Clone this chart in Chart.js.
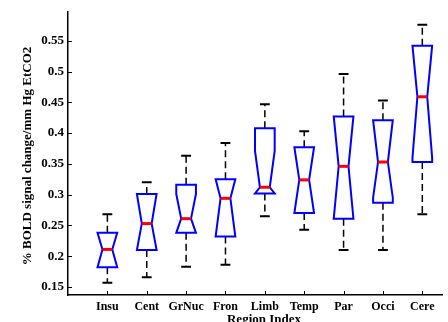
<!DOCTYPE html>
<html>
<head>
<meta charset="utf-8">
<script src="https://cdn.jsdelivr.net/npm/chart.js@4/dist/chart.umd.min.js"></script>
<style>
  html, body { margin: 0; padding: 0; background: #fff; }
  #wrap { width: 448px; height: 322px; }
</style>
</head>
<body>
<div id="wrap"><canvas id="myChart"></canvas></div>
<script>
//datos
const regiones = ['Insu', 'Cent', 'GrNuc', 'Fron', 'Limb', 'Temp', 'Par', 'Occi', 'Cere'];
const bigoteAlto = [0.268, 0.320, 0.363, 0.384, 0.447, 0.403, 0.496, 0.453, 0.576];
const q3 = [0.238, 0.301, 0.316, 0.325, 0.408, 0.377, 0.427, 0.421, 0.542];
const mediana = [0.211, 0.253, 0.261, 0.294, 0.312, 0.324, 0.346, 0.353, 0.459];
const q1 = [0.182, 0.210, 0.238, 0.232, 0.302, 0.270, 0.261, 0.287, 0.353];
const bigoteBajo = [0.157, 0.166, 0.183, 0.186, 0.265, 0.243, 0.210, 0.210, 0.268];
const muescaAlta = [0.238, 0.301, 0.301, 0.325, 0.371, 0.377, 0.427, 0.421, 0.542];
const muescaBaja = [0.182, 0.210, 0.238, 0.232, 0.302, 0.270, 0.261, 0.295, 0.360];
const yTicks = [0.15, 0.2, 0.25, 0.3, 0.35, 0.4, 0.45, 0.5, 0.55];

const fuente = "'Liberation Serif', 'DejaVu Serif', serif";
Chart.defaults.font.family = fuente;
Chart.defaults.color = '#000';

//plugin para dibujar las cajas con muesca
const cajas = {
    id: 'cajas',
    afterDatasetsDraw(chart) {
        const c = chart.ctx;
        const x = chart.scales.x;
        const y = chart.scales.y;
        const w = x.getPixelForValue(0.25) - x.getPixelForValue(0);
        c.save();
        regiones.forEach((r, i) => {
            const px = x.getPixelForValue(i + 1);
            const L = px - w, R = px + w, nL = px - w / 2, nR = px + w / 2;
            const cap = w / 2;
            // bigotes
            c.strokeStyle = '#000';
            c.lineWidth = 1.5;
            c.setLineDash([7, 4]);
            c.beginPath();
            c.moveTo(px, y.getPixelForValue(q3[i]));
            c.lineTo(px, y.getPixelForValue(bigoteAlto[i]));
            c.moveTo(px, y.getPixelForValue(q1[i]));
            c.lineTo(px, y.getPixelForValue(bigoteBajo[i]));
            c.stroke();
            c.setLineDash([]);
            c.lineWidth = 2;
            c.beginPath();
            c.moveTo(px - cap, y.getPixelForValue(bigoteAlto[i]));
            c.lineTo(px + cap, y.getPixelForValue(bigoteAlto[i]));
            c.moveTo(px - cap, y.getPixelForValue(bigoteBajo[i]));
            c.lineTo(px + cap, y.getPixelForValue(bigoteBajo[i]));
            c.stroke();
            // caja
            c.strokeStyle = '#0000ff';
            c.lineWidth = 2;
            c.beginPath();
            c.moveTo(L, y.getPixelForValue(q3[i]));
            c.lineTo(R, y.getPixelForValue(q3[i]));
            c.lineTo(R, y.getPixelForValue(muescaAlta[i]));
            c.lineTo(nR, y.getPixelForValue(mediana[i]));
            c.lineTo(R, y.getPixelForValue(muescaBaja[i]));
            c.lineTo(R, y.getPixelForValue(q1[i]));
            c.lineTo(L, y.getPixelForValue(q1[i]));
            c.lineTo(L, y.getPixelForValue(muescaBaja[i]));
            c.lineTo(nL, y.getPixelForValue(mediana[i]));
            c.lineTo(L, y.getPixelForValue(muescaAlta[i]));
            c.closePath();
            c.stroke();
            // mediana
            c.strokeStyle = '#ff0000';
            c.lineWidth = 3;
            c.beginPath();
            c.moveTo(nL, y.getPixelForValue(mediana[i]));
            c.lineTo(nR, y.getPixelForValue(mediana[i]));
            c.stroke();
        });
        // marcas hacia dentro
        const a = chart.chartArea;
        c.strokeStyle = '#000';
        c.lineWidth = 1;
        c.beginPath();
        yTicks.forEach(v => {
            const py = Math.round(y.getPixelForValue(v)) + 0.5;
            c.moveTo(a.left, py);
            c.lineTo(a.left + 4, py);
        });
        regiones.forEach((r, i) => {
            const px = Math.round(x.getPixelForValue(i + 1)) + 0.5;
            c.moveTo(px, a.bottom);
            c.lineTo(px, a.bottom - 4);
        });
        c.stroke();
        // titulos
        c.fillStyle = '#000';
        c.font = 'bold 13px ' + fuente;
        c.textAlign = 'center';
        c.textBaseline = 'alphabetic';
        c.fillText('Region Index', 264, 323);
        c.translate(31, 156);
        c.rotate(-Math.PI / 2);
        c.font = 'bold 13px ' + fuente;
        c.fillText('% BOLD signal change/mm Hg EtCO2', 0, 0);
        c.restore();
    }
};

new Chart(document.getElementById('myChart'), {
    type: 'scatter',
    data: {
        datasets: [{
            data: mediana.map((m, i) => ({ x: i + 1, y: m })),
            pointRadius: 0,
            showLine: false
        }]
    },
    options: {
        responsive: true,
        maintainAspectRatio: false,
        animation: false,
        events: [],
        layout: { padding: { top: 10, right: 6, left: 0, bottom: 0 } },
        plugins: { legend: { display: false }, tooltip: { enabled: false } },
        scales: {
            x: {
                type: 'linear',
                min: 0,
                max: 9.5,
                afterBuildTicks: s => { s.ticks = regiones.map((r, i) => ({ value: i + 1 })); },
                afterFit: s => { s.height = 27; },
                grid: { display: false, drawTicks: false },
                border: { display: true, color: '#000', width: 1.5 },
                ticks: {
                    padding: 5,
                    maxRotation: 0,
                    autoSkip: false,
                    font: { size: 12, weight: 'bold' },
                    callback: v => regiones[v - 1]
                }
            },
            y: {
                min: 0.137,
                max: 0.597,
                afterBuildTicks: s => { s.ticks = yTicks.map(v => ({ value: v })); },
                afterFit: s => { s.width = 68; },
                grid: { display: false, drawTicks: false },
                border: { display: true, color: '#000', width: 1.5 },
                ticks: {
                    padding: 4,
                    font: { size: 13, weight: 'bold' },
                    callback: v => String(Math.round(v * 100) / 100)
                }
            }
        }
    },
    plugins: [cajas]
});
</script>
</body>
</html>
